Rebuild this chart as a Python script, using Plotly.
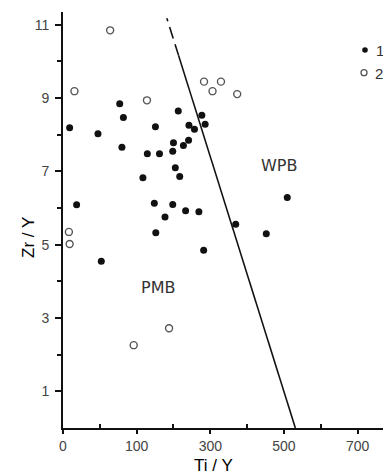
import plotly.graph_objects as go

# ---- data (Ti/Y, Zr/Y) ----
# group 1 (filled circles)
g1_ti = [154, 164, 18, 95, 251, 313, 160, 342, 357, 300, 327, 341, 229, 262, 298,
         305, 317, 217, 37, 248, 298, 277, 333, 369, 252, 104, 377, 386, 469, 552,
         609, 382]
g1_zr = [8.85, 8.47, 8.19, 8.03, 8.22, 8.65, 7.66, 8.26, 8.15, 7.78, 7.71, 7.85, 7.48, 7.48, 7.55,
         7.10, 6.86, 6.83, 6.09, 6.13, 6.10, 5.76, 5.93, 5.90, 5.33, 4.55, 8.53, 8.29, 5.56, 5.30,
         6.29, 4.85]
# group 2 (open circles)
g2_ti = [128, 31, 228, 383, 429, 406, 473, 16, 18, 192, 288]
g2_zr = [10.85, 9.19, 8.94, 9.45, 9.45, 9.19, 9.11, 5.35, 5.02, 2.26, 2.72]

# discrimination line PMB / WPB
line_solid_ti = [631, 314]
line_solid_zr = [0.0, 10.16]
line_dash_ti = [314, 282]
line_dash_zr = [10.16, 11.18]

# axis ticks
x_tick_vals = [0, 200, 400, 600, 800]
x_tick_text = ["0", "100", "300", "500", "700"]
x_minor_vals = [100, 300, 500, 700]
y_tick_vals = [1, 3, 5, 7, 9, 11]
y_tick_text = ["1", "3", "5", "7", "9", "11"]
y_minor_vals = [2, 4, 6, 8, 10]

legend_labels = ["1", "2"]

FONT = "Liberation Sans"

fig = go.Figure()
fig.add_trace(go.Scatter(x=line_solid_ti, y=line_solid_zr, mode="lines",
                         line=dict(color="#111", width=1.6), showlegend=False, hoverinfo="skip"))
fig.add_trace(go.Scatter(x=line_dash_ti, y=line_dash_zr, mode="lines",
                         line=dict(color="#111", width=1.6, dash="12px,6px"),
                         showlegend=False, hoverinfo="skip"))
fig.add_trace(go.Scatter(x=g1_ti, y=g1_zr, mode="markers", name=legend_labels[0],
                         marker=dict(symbol="circle", size=7, color="#111"), showlegend=False))
fig.add_trace(go.Scatter(x=g2_ti, y=g2_zr, mode="markers", name=legend_labels[1],
                         marker=dict(symbol="circle-open", size=7, color="#555",
                                     line=dict(width=1.4, color="#555")),
                         showlegend=False))

W, H = 383, 475
L, R, T, B = 63, 0, 12, 47
pw, ph = W - L - R, H - T - B


def px(x):
    return (x - L) / pw


def py(y):
    return (H - B - y) / ph


# legend keys drawn as shapes + annotations
fig.add_shape(type="circle", xref="paper", yref="paper", xsizemode="pixel", ysizemode="pixel",
              xanchor=px(365), yanchor=py(50), x0=-2.8, x1=2.8, y0=-2.8, y1=2.8,
              fillcolor="#111", line=dict(color="#111", width=0))
fig.add_shape(type="circle", xref="paper", yref="paper", xsizemode="pixel", ysizemode="pixel",
              xanchor=px(364), yanchor=py(72.7), x0=-3, x1=3, y0=-3, y1=3,
              fillcolor="rgba(0,0,0,0)", line=dict(color="#555", width=1.3))

annos = [
    dict(text=legend_labels[0], x=px(374), y=py(50), xanchor="left", yanchor="middle",
         font=dict(size=15, color="#333", family=FONT)),
    dict(text=legend_labels[1], x=px(373), y=py(73), xanchor="left", yanchor="middle",
         font=dict(size=15, color="#333", family=FONT)),
    dict(text="Ti / Y", x=px(213), y=py(465), xanchor="center", yanchor="middle",
         font=dict(size=17, color="#000", family=FONT)),
    dict(text="Zr / Y", x=px(28), y=py(238), xanchor="center", yanchor="middle", textangle=-90,
         font=dict(size=17, color="#000", family=FONT)),
    dict(text="PMB", x=px(158), y=py(287), xanchor="center", yanchor="middle",
         font=dict(size=16, color="#333", family="DejaVu Sans")),
    dict(text="WPB", x=px(279), y=py(165), xanchor="center", yanchor="middle",
         font=dict(size=16, color="#333", family="DejaVu Sans")),
]
for a in annos:
    a.update(xref="paper", yref="paper", showarrow=False)
    fig.add_annotation(**a)

fig.update_layout(
    width=W, height=H, autosize=False,
    margin=dict(l=L, r=R, t=T, b=B, pad=0),
    paper_bgcolor="white", plot_bgcolor="white",
    font=dict(family=FONT, size=14, color="#333"),
)
fig.update_xaxes(range=[0, 869], showgrid=False, zeroline=False,
                 showline=True, linecolor="#111", linewidth=2,
                 tickmode="array", tickvals=x_tick_vals, ticktext=x_tick_text,
                 ticks="outside", ticklen=4, tickwidth=1.5, tickcolor="#111",
                 tickfont=dict(size=14, color="#444", family=FONT),
                 minor=dict(tickmode="array", tickvals=x_minor_vals, ticks="inside",
                            ticklen=4, tickwidth=1.5, tickcolor="#111"))
fig.update_yaxes(range=[0, 11.35], showgrid=False, zeroline=False,
                 showline=True, linecolor="#111", linewidth=2,
                 tickmode="array", tickvals=y_tick_vals, ticktext=y_tick_text,
                 ticks="outside", ticklen=6, tickwidth=1.5, tickcolor="#111",
                 ticklabelstandoff=3,
                 tickfont=dict(size=14, color="#444", family=FONT),
                 minor=dict(tickmode="array", tickvals=y_minor_vals, ticks="outside",
                            ticklen=4, tickwidth=1.5, tickcolor="#111"))

fig.write_html("out.html", config={"displayModeBar": False},
               post_script="document.body.style.margin='0px';document.body.style.overflow='hidden';")
